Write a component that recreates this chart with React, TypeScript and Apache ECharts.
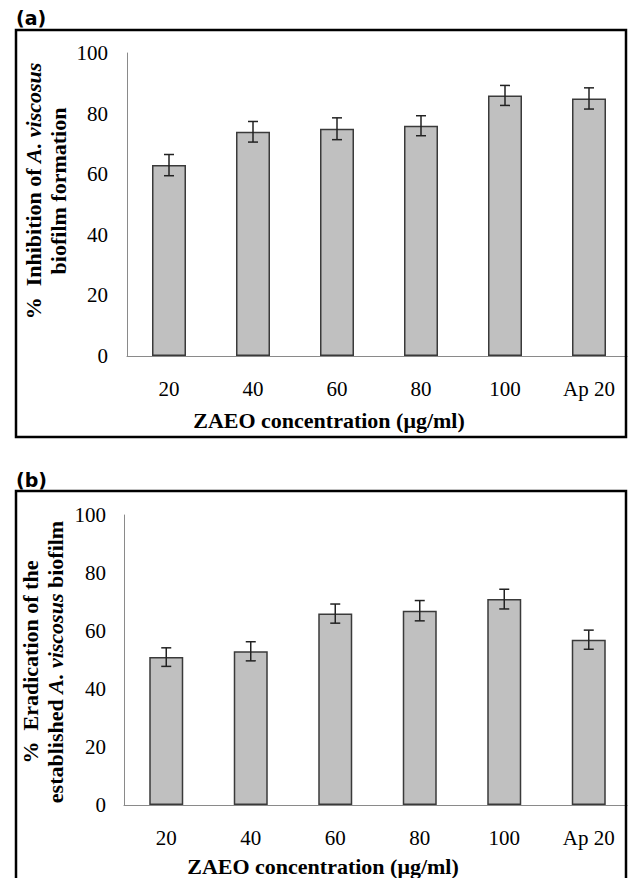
import React, { useEffect, useRef } from "react";
import * as echarts from "echarts";

const categories = ["20", "40", "60", "80", "100", "Ap 20"];
const inhibition = [63, 74, 75, 76, 86, 85];
const inhibitionErr = [3.5, 3.4, 3.6, 3.3, 3.3, 3.5];
const eradication = [51, 53, 66, 67, 71, 57];
const eradicationErr = [3.2, 3.3, 3.3, 3.5, 3.4, 3.3];
const yMin = 0;
const yMax = 100;
const yStep = 20;

const SERIF = "'Liberation Serif', 'Times New Roman', serif";

function errorSeries(xi: number, yi: number, vals: number[], errs: number[]) {
  return {
    type: "custom",
    xAxisIndex: xi,
    yAxisIndex: yi,
    z: 10,
    data: vals.map((v, i) => [i, v - errs[i], v + errs[i]]),
    renderItem: (params: any, api: any) => {
      const lo = api.coord([api.value(0), api.value(1)]);
      const hi = api.coord([api.value(0), api.value(2)]);
      const hw = 5;
      const style = { stroke: "#222", lineWidth: 1.5, fill: "none" };
      return {
        type: "group",
        children: [
          { type: "line", shape: { x1: lo[0], y1: lo[1], x2: hi[0], y2: hi[1] }, style },
          { type: "line", shape: { x1: lo[0] - hw, y1: lo[1], x2: lo[0] + hw, y2: lo[1] }, style },
          { type: "line", shape: { x1: hi[0] - hw, y1: hi[1], x2: hi[0] + hw, y2: hi[1] }, style },
        ],
      };
    },
  };
}

function xAxisDef(gi: number) {
  return {
    type: "category",
    gridIndex: gi,
    data: categories,
    axisTick: { show: false },
    axisLine: { show: true, lineStyle: { color: "#8a8a8a", width: 1 } },
    axisLabel: { margin: 22, color: "#000", fontFamily: SERIF, fontSize: 21 },
  };
}

function yAxisDef(gi: number, margin: number) {
  return {
    type: "value",
    gridIndex: gi,
    min: yMin,
    max: yMax,
    interval: yStep,
    splitLine: { show: false },
    axisTick: { show: false },
    axisLine: { show: true, lineStyle: { color: "#8a8a8a", width: 1 } },
    axisLabel: { margin, color: "#000", fontFamily: SERIF, fontSize: 21 },
  };
}

function barSeries(xi: number, yi: number, vals: number[]) {
  return {
    type: "bar",
    xAxisIndex: xi,
    yAxisIndex: yi,
    data: vals,
    barWidth: 34,
    itemStyle: { color: "#c0c0c0", borderColor: "#3a3a3a", borderWidth: 1.5 },
  };
}

const richBase = { fontFamily: SERIF, fontWeight: "bold", fontSize: 22, lineHeight: 25, fill: "#000" };

export default function App() {
  const ref = useRef<HTMLDivElement>(null);
  useEffect(() => {
    if (!ref.current) return;
    const chart = echarts.init(ref.current, null, { renderer: "svg" });
    chart.setOption({
      animation: false,
      backgroundColor: "#fff",
      grid: [
        { left: 127, top: 53, width: 510, height: 303 },
        { left: 124, top: 515, width: 507, height: 290 },
      ],
      xAxis: [xAxisDef(0), xAxisDef(1)],
      yAxis: [yAxisDef(0, 19), yAxisDef(1, 18)],
      series: [
        barSeries(0, 0, inhibition),
        errorSeries(0, 0, inhibition, inhibitionErr),
        barSeries(1, 1, eradication),
        errorSeries(1, 1, eradication, eradicationErr),
      ],
      graphic: [
        { type: "rect", z: 90, shape: { x: 627.5, y: 0, width: 10, height: 878 }, style: { fill: "#fff" } },
        { type: "rect", z: 100, shape: { x: 16, y: 30, width: 610, height: 407 }, style: { fill: "none", stroke: "#000", lineWidth: 2.5 } },
        { type: "rect", z: 100, shape: { x: 16, y: 491, width: 610, height: 420 }, style: { fill: "none", stroke: "#000", lineWidth: 2.5 } },
        { type: "text", z: 100, x: 16, y: 18, style: { text: "(a)", font: "bold 19px 'DejaVu Sans', sans-serif", fill: "#000", verticalAlign: "middle" } },
        { type: "text", z: 100, x: 16, y: 480, style: { text: "(b)", font: "bold 19px 'DejaVu Sans', sans-serif", fill: "#000", verticalAlign: "middle" } },
        { type: "text", z: 100, x: 329, y: 420, style: { text: "ZAEO concentration (μg/ml)", fontFamily: SERIF, fontWeight: "bold", fontSize: 22, fill: "#000", align: "center", verticalAlign: "middle" } },
        { type: "text", z: 100, x: 323, y: 866, style: { text: "ZAEO concentration (μg/ml)", fontFamily: SERIF, fontWeight: "bold", fontSize: 22, fill: "#000", align: "center", verticalAlign: "middle" } },
        {
          type: "text", z: 100, x: 46, y: 191, rotation: Math.PI / 2,
          style: {
            text: "{n|%  Inhibition of }{i|A. viscosus}\n{n|biofilm formation}",
            align: "center", verticalAlign: "middle",
            rich: { n: { ...richBase }, i: { ...richBase, fontStyle: "italic" } },
          },
        },
        {
          type: "text", z: 100, x: 43, y: 662, rotation: Math.PI / 2,
          style: {
            text: "{n|%  Eradication of the}\n{n|established }{i|A. viscosus}{n| biofilm}",
            align: "center", verticalAlign: "middle",
            rich: { n: { ...richBase }, i: { ...richBase, fontStyle: "italic" } },
          },
        },
      ],
    });
    return () => chart.dispose();
  }, []);
  return <div ref={ref} style={{ position: "absolute", left: 0, top: 0, width: 631, height: 878 }} />;
}
